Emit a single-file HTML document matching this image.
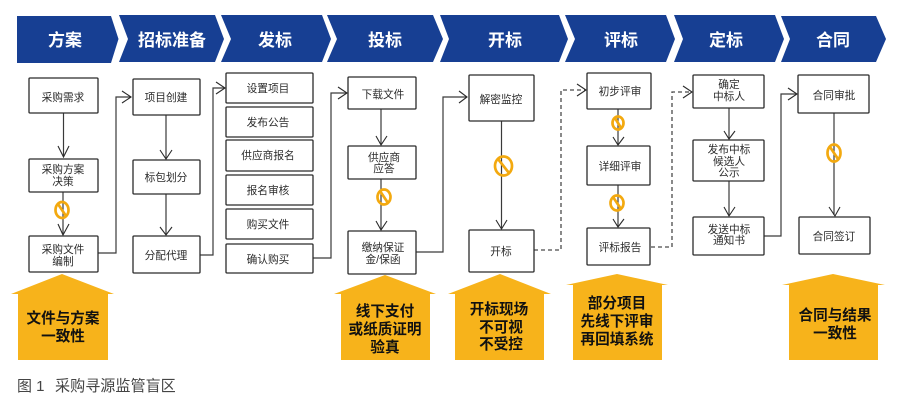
<!DOCTYPE html>
<html lang="zh"><head><meta charset="utf-8"><style>
html,body{margin:0;padding:0;background:#fff}
svg{display:block}
text{font-family:"Liberation Sans","Noto Sans CJK SC",sans-serif;text-anchor:middle}
.h{font-size:17px;font-weight:700;fill:#fff}
.b{font-size:10.7px;fill:#2b2b2b}
.y{font-size:14.6px;font-weight:700;fill:#111}
.box{fill:#fff;stroke:#2b2b2b;stroke-width:1.3}
.l{fill:none;stroke:#3a3a3a;stroke-width:1.2}
.d{fill:none;stroke:#4a4a4a;stroke-width:1.3;stroke-dasharray:4 3}
.a{fill:none;stroke:#2b2b2b;stroke-width:1.1}
.n{fill:none;stroke:#f3a90f;stroke-width:2.7}
.bl{stroke:#4f7fc4;stroke-width:1}
</style></head><body>
<svg width="900" height="408" viewBox="0 0 900 408" xmlns="http://www.w3.org/2000/svg">
<g fill="#173f93">
<polygon points="17,16 111,16 118.5,39 111,63 17,63"/>
<polygon points="119,15 215,15 224,39 215,62 119,62 128,39"/>
<polygon points="221,15 322,15 331,39 322,62 221,62 231,39"/>
<polygon points="327,15 433,15 443,39 433,62 327,62 337,39"/>
<polygon points="440,15 559,15 568,39 559,62 440,62 449,39"/>
<polygon points="565,15 666,15 675,39 666,62 565,62 575,39"/>
<polygon points="674,15 775,15 784,39 775,62 674,62 683,39"/>
<polygon points="781,16 876,16 886,39 876,62 781,62 790,39"/>
</g>
<text class="h" x="65" y="46">方案</text>
<text class="h" x="172" y="46">招标准备</text>
<text class="h" x="275" y="46">发标</text>
<text class="h" x="385" y="46">投标</text>
<text class="h" x="505" y="46">开标</text>
<text class="h" x="621" y="46">评标</text>
<text class="h" x="726" y="46">定标</text>
<text class="h" x="833" y="46">合同</text>

<!-- connectors -->
<g class="l">
<path d="M63.500 113V156"/><path d="M63 192V234"/>
<path d="M166 115V158"/><path d="M166 194V235"/>
<path d="M98 253H116V97H131"/>
<path d="M200 255H213V88H225"/>
<path d="M313 258H331V93H347"/>
<path d="M381 109V144"/><path d="M381 179V229"/>
<path d="M416 252H443V97H467"/>
<path d="M501.500 121V228"/>
<path d="M618 109V144"/><path d="M618 185V226"/>
<path d="M729 108V138"/><path d="M729 181V215"/>
<path d="M764 236H781V94H796"/>
<path d="M834 113V215"/>
</g>
<g class="d">
<path d="M534 250H561V90H585"/>
<path d="M651 247H672V92H691"/>
</g>
<g class="a">
<path d="M58 146L63.500 157L69 146"/><path d="M58 224L63 235L69 224"/>
<path d="M160 150L166 159L172 150"/><path d="M160 227L166 235L172 227"/>
<path d="M122 91L131 97L122 103"/><path d="M216 82L225 88L216 94"/>
<path d="M338 87L347 93L338 99"/><path d="M376 136L381 145L387 136"/>
<path d="M376 221L381 230L387 221"/><path d="M459 91L467 97L459 103"/>
<path d="M496 220L501.500 229L507 220"/>
<path d="M577 84L586 90L577 96"/><path d="M613 137L618 145L624 137"/>
<path d="M613 219L618 227L624 219"/>
<path d="M683 86L692 92L683 98"/><path d="M724 131L729 139L735 131"/>
<path d="M724 207L729 216L735 207"/><path d="M788 88L797 94L788 100"/>
<path d="M829 207L835 216L840 207"/>
</g>

<!-- prohibition signs -->
<g>
<ellipse class="n" cx="62" cy="210" rx="6.500" ry="8"/><path class="n" d="M58 204L66 216"/>
<ellipse class="n" cx="384" cy="197" rx="6.500" ry="7.500"/><path class="n" d="M380 191L388 203"/>
<ellipse class="n" cx="503.500" cy="166" rx="8.500" ry="9.500"/><path class="n" d="M498 159L509 173"/>
<ellipse class="n" cx="618" cy="123" rx="5.500" ry="6.500"/><path class="n" d="M615 118L621 128"/>
<ellipse class="n" cx="617" cy="203" rx="6.500" ry="7.500"/><path class="n" d="M613 197L621 209"/>
<ellipse class="n" cx="834" cy="153" rx="6.500" ry="8.500"/><path class="n" d="M830 147L838 159"/>
</g>

<!-- boxes -->
<g class="box">
<rect x="29" y="78" width="69" height="35" rx="1"/><rect x="29" y="159" width="69" height="33" rx="1"/><rect x="29" y="236" width="69" height="36" rx="1"/>
<rect x="133" y="79" width="67" height="36" rx="1"/><rect x="133" y="160" width="67" height="34" rx="1"/><rect x="133" y="236" width="67" height="37" rx="1"/>
<rect x="226" y="73" width="87" height="30" rx="1"/><rect x="226" y="107" width="87" height="30" rx="1"/><rect x="226" y="140" width="87" height="31" rx="1"/><rect x="226" y="175" width="87" height="30" rx="1"/><rect x="226" y="209" width="87" height="30" rx="1"/><rect x="226" y="244" width="87" height="29" rx="1"/>
<rect x="348" y="77" width="68" height="32" rx="1"/><rect x="348" y="146" width="68" height="33" rx="1"/><rect x="348" y="231" width="68" height="43" rx="1"/>
<rect x="469" y="75" width="65" height="46" rx="1"/><rect x="469" y="230" width="65" height="42" rx="1"/>
<rect x="587" y="73" width="64" height="36" rx="1"/><rect x="587" y="146" width="63" height="39" rx="1"/><rect x="587" y="228" width="63" height="37" rx="1"/>
<rect x="693" y="75" width="71" height="33" rx="1"/><rect x="693" y="140" width="71" height="41" rx="1"/><rect x="693" y="217" width="71" height="38" rx="1"/>
<rect x="798" y="75" width="71" height="38" rx="1"/><rect x="799" y="217" width="71" height="37" rx="1"/>
</g>

<!-- box labels -->
<g class="b">
<text x="63" y="101">采购需求</text>
<text x="63" y="173">采购方案</text><text x="63" y="185">决策</text>
<text x="63" y="253">采购文件</text><text x="63" y="265">编制</text>
<text x="166" y="101">项目创建</text><text x="166" y="181">标包划分</text><text x="166" y="259">分配代理</text>
<text x="268" y="92">设置项目</text><text x="268" y="126">发布公告</text><text x="268" y="159">供应商报名</text><text x="268" y="194">报名审核</text><text x="268" y="228">购买文件</text><text x="268" y="263">确认购买</text>
<text x="383" y="98">下载文件</text>
<text x="384" y="161">供应商</text><text x="384" y="172">应答</text>
<text x="383" y="251">缴纳保证</text><text x="383" y="263">金/保函</text>
<text x="501" y="103">解密监控</text><text x="501" y="255">开标</text>
<text x="620" y="95">初步评审</text><text x="620" y="170">详细评审</text><text x="620" y="251">评标报告</text>
<text x="729" y="88">确定</text><text x="729" y="100">中标人</text>
<text x="729" y="153">发布中标</text><text x="729" y="165">候选人</text><text x="729" y="176">公示</text>
<text x="729" y="233">发送中标</text><text x="729" y="244">通知书</text>
<text x="834" y="99">合同审批</text><text x="834" y="240">合同签订</text>
</g>

<!-- houses -->
<g fill="#f7b31b">
<polygon points="62,274 114,294 108,294 108,360 18,360 18,294 11,294"/>
<polygon points="385,275 436,294 430,294 430,360 341,360 341,294 334,294"/>
<polygon points="500,274 551,294 544,294 544,360 455,360 455,294 448,294"/>
<polygon points="617,274 668,285 662,285 662,360 573,360 573,285 566,285"/>
<polygon points="833,274 885,285 878,285 878,360 789,360 789,285 782,285"/>
</g>
<g class="y">
<text x="63" y="323">文件与方案</text><text x="63" y="341">一致性</text>
<text x="385" y="316">线下支付</text><text x="385" y="334">或纸质证明</text><text x="385" y="352">验真</text>
<text x="499" y="314">开标现场</text><text x="501" y="332">不可视</text><text x="501" y="349">不受控</text>
<text x="617" y="308">部分项目</text><text x="617" y="326">先线下评审</text><text x="617" y="344">再回填系统</text>
<text x="835" y="320">合同与结果</text><text x="835" y="338">一致性</text>
</g>
<text x="17" y="391" style="text-anchor:start;font-size:15px;fill:#444">图 1</text>
<text x="55" y="391" style="text-anchor:start;font-size:15.100px;fill:#444">采购寻源监管盲区</text>
</svg>
</body></html>
